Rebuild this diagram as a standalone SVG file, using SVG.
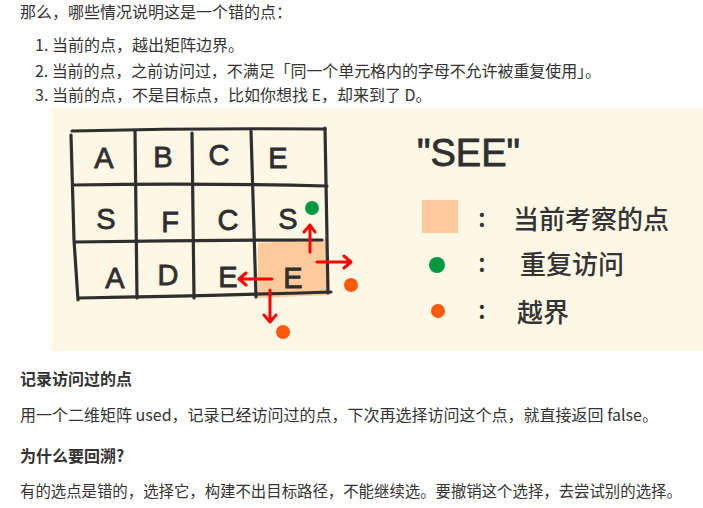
<svg xmlns="http://www.w3.org/2000/svg" width="703" height="508" viewBox="0 0 703 508">
<style>
.body{font-family:"Noto Sans CJK SC","Noto Sans",sans-serif;font-size:16px;fill:#333}
.bold{font-weight:bold}
.grid{fill:none;stroke:#2f2f2f;stroke-width:3.2;stroke-linecap:round;stroke-linejoin:round}
.hand{font-family:"Liberation Sans","DejaVu Sans",sans-serif;font-size:29px;fill:#2f2f2f;stroke:#2f2f2f;stroke-width:0.8;text-anchor:middle}
.leg{font-family:"Noto Sans CJK SC",sans-serif;font-size:26px;fill:#333;font-weight:500}
.arrow{fill:none;stroke:#ff0000;stroke-width:3;stroke-linecap:round;stroke-linejoin:round}
</style>
<rect width="703" height="508" fill="#ffffff"/>
<g id="text-top">
<text class="body" x="20" y="18">那么，哪些情况说明这是一个错的点：</text>
<text class="body" x="35" y="51">1. 当前的点，越出矩阵边界。</text>
<text class="body" x="35" y="77" textLength="566" lengthAdjust="spacing">2. 当前的点，之前访问过，不满足「同一个单元格内的字母不允许被重复使用」。</text>
<text class="body" x="35" y="101">3. 当前的点，不是目标点，比如你想找 E，却来到了 D。</text>
</g>
<rect id="figure-bg" x="51" y="108" width="652" height="243" fill="#fdf7e6"/>
<g id="current-cell"><path d="M258 243 L327 239 L329 295 L258 298 Z" fill="#fdca9c"/></g>
<g id="grid">
<path class="grid" d="M72 131 Q200 128 325 129"/>
<path class="grid" d="M73 185 Q200 183 327 186"/>
<path class="grid" d="M75 242 Q200 240 322 240"/>
<path class="grid" d="M79 298 Q200 296 331 292"/>
<path class="grid" d="M71 135 L74 240 L78 300"/>
<path class="grid" d="M135 131 L137 298"/>
<path class="grid" d="M192 133 L194 298"/>
<path class="grid" d="M251 131 L256 297"/>
<path class="grid" d="M325 128 L328 293"/>
</g>
<g id="cells">
<text class="hand" x="104" y="168">A</text>
<text class="hand" x="163" y="167">B</text>
<text class="hand" x="219" y="165">C</text>
<text class="hand" x="278" y="168">E</text>
<text class="hand" x="106" y="229">S</text>
<text class="hand" x="170" y="232">F</text>
<text class="hand" x="228" y="230">C</text>
<text class="hand" x="288" y="229">S</text>
<text class="hand" x="115" y="288">A</text>
<text class="hand" x="168" y="285">D</text>
<text class="hand" x="228" y="287">E</text>
<text class="hand" x="293" y="288">E</text>
</g>
<g id="connectors">
<path class="arrow" d="M310 252 L310 226 M304 232 L310 225 L315 232"/>
<path class="arrow" d="M317 262 L351 262 M344 256 L351 262 L344 268"/>
<path class="arrow" d="M272 279 L240 279 M246 273 L239 279 L246 285"/>
<path class="arrow" d="M270 290 L270 322 M264 315 L270 322 L276 315"/>
</g>
<g id="dots">
<circle cx="312" cy="208" r="7" fill="#009940"/>
<circle cx="351" cy="285" r="7" fill="#ff5a0a"/>
<circle cx="283" cy="332" r="7" fill="#ff5a0a"/>
</g>
<g id="legend">
<text x="417" y="166" font-family="Liberation Sans,DejaVu Sans,sans-serif" font-size="38" fill="#2f2f2f" stroke="#2f2f2f" stroke-width="0.8">"SEE"</text>
<rect x="422" y="200" width="36" height="33" fill="#fdca9c"/>
<text class="leg" x="478" y="227">:</text>
<text class="leg" x="513" y="229">当前考察的点</text>
<circle cx="437" cy="265" r="8" fill="#009940"/>
<text class="leg" x="478" y="272">:</text>
<text class="leg" x="520" y="274">重复访问</text>
<circle cx="438" cy="311" r="7" fill="#ff5a0a"/>
<text class="leg" x="478" y="319">:</text>
<text class="leg" x="517" y="322">越界</text>
</g>
<g id="text-bottom">
<text class="body bold" x="20" y="385">记录访问过的点</text>
<text class="body" x="20" y="421">用一个二维矩阵 used，记录已经访问过的点，下次再选择访问这个点，就直接返回 false。</text>
<text class="body bold" x="20" y="462">为什么要回溯?</text>
<text class="body" x="20" y="497" font-size="15.4" style="font-size:15.4px">有的选点是错的，选择它，构建不出目标路径，不能继续选。要撤销这个选择，去尝试别的选择。</text>
</g>
</svg>
